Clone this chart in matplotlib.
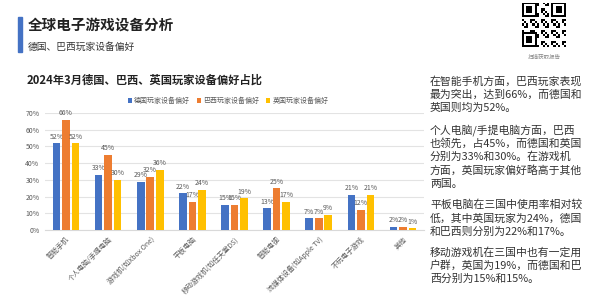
import numpy as np
import matplotlib
matplotlib.use("Agg")
import matplotlib.pyplot as plt
from matplotlib.patches import Rectangle

plt.rcParams['font.family'] = ['Noto Sans CJK SC', 'DejaVu Sans']

# data
categories = ['智能手机', '个人电脑/手提电脑', '游戏机(如Xbox One)', '平板电脑',
              '移动游戏机(如任天堂DS)', '智能电视', '流媒体设备(如Apple TV)',
              '不玩电子游戏', '其他']
germany = [52, 33, 29, 22, 15, 13, 7, 21, 2]
brazil = [66, 45, 32, 17, 15, 25, 7, 12, 2]
uk = [52, 30, 36, 24, 19, 17, 9, 21, 1]
series_names = ['德国玩家设备偏好', '巴西玩家设备偏好', '英国玩家设备偏好']
colors = ['#4472C4', '#ED7D31', '#FFC000']

paragraphs = [
    ['在智能手机方面，巴西玩家表现', '最为突出，达到66%，而德国和', '英国则均为52%。'],
    ['个人电脑/手提电脑方面，巴西', '也领先，占45%，而德国和英国', '分别为33%和30%。在游戏机',
     '方面，英国玩家偏好略高于其他', '两国。'],
    ['平板电脑在三国中使用率相对较', '低，其中英国玩家为24%，德国', '和巴西则分别为22%和17%。'],
    ['移动游戏机在三国中也有一定用', '户群，英国为19%，而德国和巴', '西分别为15%和15%。'],
]

fig = plt.figure(figsize=(6, 3), dpi=100)
W, H = 600, 300

def fx(x):
    return x / W

def fy(y):
    return 1 - y / H

# header
fig.patches.append(Rectangle((fx(18), fy(52)), fx(4), 35 / H, transform=fig.transFigure,
                             color='#4472C4', zorder=2))
fig.text(fx(28), fy(25), '全球电子游戏设备分析', fontsize=10.5, fontweight='bold',
         color='#222222', va='center')
fig.text(fx(28), fy(47), '德国、巴西玩家设备偏好', fontsize=7, color='#333333', va='center')
fig.text(fx(27), fy(80), '2024年3月德国、巴西、英国玩家设备偏好占比', fontsize=8.1,
         fontweight='bold', color='#222222', va='center')

# qr code placeholder
qr = fig.add_axes([fx(522), fy(47), 44 / W, 44 / H])
n = 21
grid = np.zeros((n, n))
for i in range(n):
    for j in range(n):
        grid[i, j] = 1 if (i * 7 + j * 3 + i * j) % 5 < 2 else 0
for (r, c) in [(0, 0), (0, n - 7), (n - 7, 0)]:
    grid[r:r + 7, c:c + 7] = 1
    grid[r + 1:r + 6, c + 1:c + 6] = 0
    grid[r + 2:r + 5, c + 2:c + 5] = 1
qr.imshow(grid, cmap='Greys', interpolation='nearest')
qr.axis('off')
fig.text(fx(544), fy(57), '扫描获取报告', fontsize=4, color='#888888', ha='center', va='center')

# chart
ax = fig.add_axes([fx(45), fy(230), (424 - 45) / W, (230 - 113) / H])
x = np.arange(len(categories))
width = 0.18
offsets = [-0.225, 0, 0.225]
for vals, off, col, name in zip([germany, brazil, uk], offsets, colors, series_names):
    bars = ax.bar(x + off, vals, width, color=col, label=name, zorder=3)
    for b, v in zip(bars, vals):
        ax.text(b.get_x() + b.get_width() / 2, v + 1.5, f'{v}%', ha='center', va='bottom',
                fontsize=5, color='#595959')

ax.set_xlim(-0.5, len(categories) - 0.5)
ax.set_ylim(0, 70)
ax.set_yticks(range(0, 71, 10))
ax.set_yticklabels([f'{v}%' for v in range(0, 71, 10)], fontsize=5, color='#595959')
ax.set_xticks(x)
ax.set_xticklabels(categories, rotation=45, ha='right', rotation_mode='anchor',
                   fontsize=5, color='#595959')
ax.tick_params(length=0, pad=4)
ax.grid(axis='y', color='#E3E3E3', linewidth=0.8, zorder=0)
for s in ['top', 'right', 'left']:
    ax.spines[s].set_visible(False)
ax.spines['bottom'].set_color('#D9D9D9')

fig.legend(loc='center', bbox_to_anchor=(fx(228), fy(101)), ncol=3, fontsize=5,
           frameon=False, handlelength=0.6, handleheight=0.6, handletextpad=0.3,
           columnspacing=1.0, labelcolor='#595959')

# side text
starts = [81, 130, 205, 252]
for top, lines in zip(starts, paragraphs):
    for k, line in enumerate(lines):
        fig.text(fx(430), fy(top + 13.4 * k), line, fontsize=7.8, color='#333333', va='center')

fig.savefig('out.png', dpi=100)
